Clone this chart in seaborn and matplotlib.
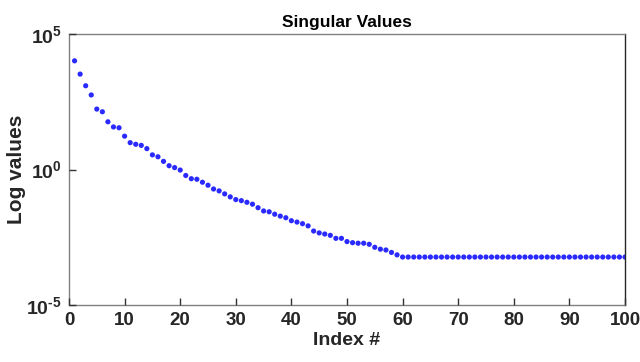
import numpy as np
import pandas as pd
import matplotlib
matplotlib.use("Agg")
import matplotlib.pyplot as plt
import seaborn as sns
from matplotlib.ticker import NullLocator

# Data: log10 of singular values
index = list(range(1, 101))
log_head = [4.01, 3.52, 3.09, 2.75, 2.23, 2.13, 1.76, 1.57, 1.54, 1.23,
            0.99, 0.93, 0.89, 0.77, 0.54, 0.47, 0.30, 0.14, 0.07, -0.02,
            -0.22, -0.34, -0.36, -0.47, -0.58, -0.72, -0.79, -0.90, -1.01, -1.11,
            -1.15, -1.21, -1.28, -1.41, -1.53, -1.56, -1.65, -1.72, -1.78, -1.89,
            -1.94, -2.00, -2.08, -2.27, -2.34, -2.38, -2.43, -2.54, -2.54, -2.66,
            -2.70, -2.72, -2.72, -2.76, -2.87, -2.94, -2.97, -3.06, -3.15]
log_tail = [-3.23] * 41
log_values = log_head + log_tail
values = [10 ** v for v in log_values]

xticks = [0, 10, 20, 30, 40, 50, 60, 70, 80, 90, 100]
yticks = [1e-5, 1e0, 1e5]
ytick_labels = [r"$\mathbf{10^{\text{-}5}}$", r"$\mathbf{10^{0}}$", r"$\mathbf{10^{5}}$"]

sns.set_style("white", {"xtick.bottom": True, "ytick.left": True,
                        "xtick.direction": "in", "ytick.direction": "in"})
plt.rcParams["font.family"] = ["Liberation Sans", "DejaVu Sans"]
plt.rcParams["mathtext.fontset"] = "custom"
plt.rcParams["mathtext.bf"] = "Liberation Sans:bold"
plt.rcParams["mathtext.rm"] = "Liberation Sans:bold"
plt.rcParams["axes.unicode_minus"] = False
plt.rcParams["xtick.major.size"] = 5
plt.rcParams["ytick.major.size"] = 5
plt.rcParams["xtick.major.width"] = 1.0
plt.rcParams["ytick.major.width"] = 1.0

df = pd.DataFrame({"Index": index, "Value": values})

fig = plt.figure(figsize=(6.4, 3.62), dpi=100)
ax = fig.add_axes([69 / 640, 1 - 305 / 362, 556 / 640, 271 / 362])
sns.scatterplot(data=df, x="Index", y="Value", ax=ax, color="#2a2aff",
                s=14, edgecolor="none", linewidth=0, legend=False)
ax.set_yscale("log")
ax.set_xlim(0, 100)
ax.set_ylim(1e-5, 1e5)
ax.set_xticks(xticks)
ax.set_xticklabels([str(t) for t in xticks], fontweight="bold", fontsize=13.5)
ax.set_yticks(yticks)
ax.yaxis.set_minor_locator(NullLocator())
ax.set_yticklabels(ytick_labels, fontsize=14)
ax.tick_params(axis="both", which="major", direction="in", length=5, width=1.0,
               color="#333333", labelcolor="#262626",
               bottom=True, left=True, top=False, right=False, pad=5)
ax.set_axisbelow(False)
for side in ["left", "bottom", "top"]:
    ax.spines[side].set_color("#808080")
    ax.spines[side].set_linewidth(1.0)
ax.spines["right"].set_color("#262626")
ax.spines["right"].set_linewidth(1.0)

ax.set_xlabel("Index #", fontsize=14, fontweight="bold", color="#262626", labelpad=2)
ax.set_ylabel("Log values", fontsize=15, fontweight="bold", color="#262626", labelpad=0)
ax.set_title("Singular Values", fontsize=12.5, fontweight="bold", color="black", pad=5)

fig.savefig("out.png", dpi=100, facecolor="white")
